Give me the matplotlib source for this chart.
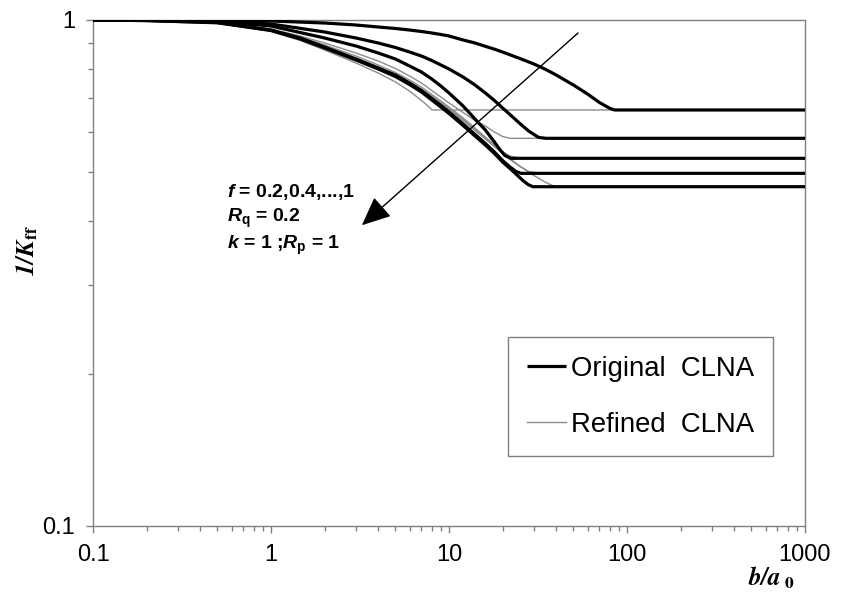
import matplotlib
matplotlib.use("Agg")
import matplotlib.pyplot as plt
from matplotlib.ticker import LogLocator, NullFormatter, FixedLocator, FixedFormatter

plt.rcParams['font.family'] = ['Liberation Sans', 'DejaVu Sans']
plt.rcParams['mathtext.fontset'] = 'custom'
plt.rcParams['mathtext.rm'] = 'Liberation Sans:bold'
plt.rcParams['mathtext.it'] = 'Liberation Sans:italic:bold'
plt.rcParams['mathtext.bf'] = 'Liberation Sans:bold'

# ---------------- data ----------------
# Original CLNA, f = 0.2, 0.4, 0.6, 0.8, 1
orig_02_x = [0.1, 0.2, 0.5, 1, 2, 3, 4, 5, 6, 7, 8, 9, 10, 12, 14, 16, 18, 20, 25, 30, 35, 40, 50, 60, 70, 80, 85, 1000]
orig_02_y = [1.0, 1.0, 0.9986, 0.9955, 0.9864, 0.9775, 0.9687, 0.9621, 0.9555, 0.9490, 0.9426, 0.9362,
             0.9298, 0.9131, 0.9006, 0.8872, 0.8756, 0.8645, 0.8393, 0.8186, 0.7983, 0.7786, 0.7440,
             0.7141, 0.6870, 0.6691, 0.6640, 0.6640]

orig_04_x = [0.1, 0.2, 0.5, 1, 2, 3, 4, 5, 6, 7, 8, 9, 10, 12, 14, 16, 18, 20, 22, 25, 28, 30, 32, 35, 1000]
orig_04_y = [1.0, 0.9986, 0.9955, 0.9820, 0.9469, 0.9214, 0.9006, 0.8824, 0.8645, 0.8489, 0.8317, 0.8149,
             0.8002, 0.7715, 0.7440, 0.7174, 0.6933, 0.6700, 0.6505, 0.6244, 0.6035, 0.5940, 0.5859,
             0.5837, 0.5837]

orig_06_x = [0.1, 0.2, 0.5, 1, 2, 3, 4, 5, 6, 7, 8, 9, 10, 12, 14, 16, 18, 19.4, 20.6, 22.3, 1000]
orig_06_y = [1.0, 0.9982, 0.9932, 0.9731, 0.9214, 0.8885, 0.8606, 0.8374, 0.8112, 0.7893, 0.7645, 0.7406,
             0.7174, 0.6762, 0.6373, 0.6062, 0.5740, 0.5534, 0.5398, 0.5329, 0.5329]

orig_08_x = [0.1, 0.2, 0.5, 1, 1.46, 2, 3, 4, 5, 6, 7, 8, 9, 10, 12, 14, 16, 18, 20, 22, 23.8, 25.4, 1000]
orig_08_y = [1.0, 0.9977, 0.9887, 0.9555, 0.9214, 0.8844, 0.8374, 0.8038, 0.7786, 0.7508, 0.7256, 0.6996,
             0.6777, 0.6579, 0.6230, 0.5940, 0.5701, 0.5484, 0.5276, 0.5123, 0.5019, 0.4977, 0.4977]

orig_10_x = [0.1, 0.2, 0.5, 1, 1.46, 2, 3, 4, 5, 6, 7, 8, 9, 10, 12, 14, 16, 18, 20, 22, 24.1, 26.0, 27.8, 29.6, 1000]
orig_10_y = [1.0, 0.9973, 0.9873, 0.9534, 0.9172, 0.8804, 0.8336, 0.8002, 0.7733, 0.7457, 0.7207, 0.6949,
             0.6731, 0.6535, 0.6188, 0.5899, 0.5662, 0.5447, 0.5240, 0.5088, 0.4940, 0.4818, 0.4730,
             0.4683, 0.4683]

# Refined CLNA, f = 0.2, 0.4, 0.6, 0.8, 1
ref_02_x = [0.1, 0.2, 0.5, 1, 1.46, 2, 3, 4, 5, 6, 7, 7.62, 8.03, 1000]
ref_02_y = [1.0, 0.9968, 0.9864, 0.9490, 0.9109, 0.8724, 0.8222, 0.7857, 0.7542, 0.7239, 0.6933, 0.6762,
            0.6640, 0.6640]

ref_04_x = [0.1, 0.2, 0.5, 1, 1.46, 2, 3, 4, 5, 6, 7, 8, 9, 10, 12, 14, 16, 18, 20, 22, 1000]
ref_04_y = [1.0, 0.9973, 0.9887, 0.9599, 0.9298, 0.9006, 0.8606, 0.8298, 0.8020, 0.7751, 0.7508, 0.7256,
            0.7044, 0.6855, 0.6564, 0.6329, 0.6173, 0.6007, 0.5885, 0.5837, 0.5837]

ref_06_x = [0.1, 0.2, 0.5, 1, 1.46, 2, 3, 4, 5, 6, 7, 8, 9, 10, 12, 14, 16, 18, 20, 22, 25, 1000]
ref_06_y = [1.0, 0.9973, 0.9887, 0.9577, 0.9256, 0.8925, 0.8489, 0.8149, 0.7875, 0.7611, 0.7372, 0.7125,
            0.6917, 0.6731, 0.6402, 0.6117, 0.5872, 0.5662, 0.5497, 0.5385, 0.5329, 0.5329]

ref_08_x = [0.1, 0.2, 0.5, 1, 2, 3, 4, 5, 6, 7, 8, 9, 10, 12, 14, 16, 18, 20, 22, 25, 28, 32, 1000]
ref_08_y = [1.0, 0.9973, 0.9887, 0.9555, 0.8844, 0.8413, 0.8077, 0.7804, 0.7542, 0.7305, 0.7077, 0.6870,
            0.6685, 0.6359, 0.6076, 0.5832, 0.5624, 0.5447, 0.5300, 0.5134, 0.5019, 0.4977, 0.4977]

ref_10_x = [0.1, 0.2, 0.5, 1, 2, 3, 4, 5, 6, 7, 8, 9, 10, 12, 14, 16, 18, 20, 25, 30, 35, 39.5, 1000]
ref_10_y = [1.0, 0.9973, 0.9887, 0.9555, 0.8824, 0.8374, 0.8038, 0.7768, 0.7508, 0.7272, 0.7044, 0.6839,
            0.6655, 0.6329, 0.6048, 0.5819, 0.5624, 0.5460, 0.5146, 0.4928, 0.4774, 0.4683, 0.4683]

x_ticks = [0.1, 1, 10, 100, 1000]
x_ticklabels = ["0.1", "1", "10", "100", "1000"]
y_ticks = [0.1, 1]
y_ticklabels = ["0.1", "1"]

legend_labels = ["Original  CLNA", "Refined  CLNA"]
annot_lines = [r"$f$ = 0.2,0.4,...,1", r"$R_\mathrm{q}$ = 0.2", r"$k$ = 1 ;$R_\mathrm{p}$ = 1"]

# arrow (data coordinates): tail and head
arrow_tail = (53.1, 0.9426)
arrow_head = (3.24, 0.393)

# ---------------- figure ----------------
fig = plt.figure(figsize=(8.41, 5.97), dpi=100)
ax = fig.add_axes([93/841, 1-526/597, 712/841, 506/597])
ax.set_xscale('log')
ax.set_yscale('log')
ax.set_xlim(0.1, 1000)
ax.set_ylim(0.1, 1)

thin_c = '#8c8c8c'
refined = [(ref_02_x, ref_02_y), (ref_04_x, ref_04_y), (ref_06_x, ref_06_y),
           (ref_08_x, ref_08_y), (ref_10_x, ref_10_y)]
original = [(orig_02_x, orig_02_y), (orig_04_x, orig_04_y), (orig_06_x, orig_06_y),
            (orig_08_x, orig_08_y), (orig_10_x, orig_10_y)]

h_ref = None
for xs, ys in refined:
    h_ref, = ax.plot(xs, ys, color=thin_c, lw=1.0, solid_joinstyle='round', zorder=2)
h_orig = None
for xs, ys in original:
    h_orig, = ax.plot(xs, ys, color='black', lw=2.3, solid_joinstyle='round',
                      solid_capstyle='butt', zorder=3)

# spines & ticks
for s in ax.spines.values():
    s.set_color('#808080')
    s.set_linewidth(1.0)
ax.xaxis.set_major_locator(FixedLocator(x_ticks))
ax.xaxis.set_major_formatter(FixedFormatter(x_ticklabels))
ax.yaxis.set_major_locator(FixedLocator(y_ticks))
ax.yaxis.set_major_formatter(FixedFormatter(y_ticklabels))
ax.xaxis.set_minor_locator(LogLocator(base=10, subs=range(2, 10)))
ax.yaxis.set_minor_locator(LogLocator(base=10, subs=range(2, 10)))
ax.xaxis.set_minor_formatter(NullFormatter())
ax.yaxis.set_minor_formatter(NullFormatter())
ax.tick_params(which='major', direction='out', length=5, width=1.0, color='#808080',
               labelsize=17, pad=8)
ax.tick_params(which='minor', direction='out', length=3.5, width=1.0, color='#808080')

# arrow
ax.annotate('', xy=arrow_head, xytext=arrow_tail,
            arrowprops=dict(arrowstyle='-|>,head_length=0.9,head_width=0.4',
                            mutation_scale=20, lw=1.0, color='black',
                            shrinkA=0, shrinkB=0), zorder=4)

# annotation text
for j, line in enumerate(annot_lines):
    ax.text((227-93)/712, (526-[192, 218, 245][j])/506, line, transform=ax.transAxes,
            fontsize=14, fontweight='bold', ha='left', va='center')

# legend
leg = ax.legend([h_orig, h_ref], legend_labels, loc='upper right',
                bbox_to_anchor=(0.955, 0.373), borderaxespad=0, fontsize=19.8,
                frameon=True, fancybox=False, edgecolor='#808080', framealpha=1,
                handlelength=1.4, handletextpad=0.2, labelspacing=1.08,
                borderpad=0.68)
leg.get_frame().set_linewidth(1.0)

# axis labels (Times-like bold italic)
fig.text(27/841, 1-250/597, r'$\mathbfit{1/K}_{\mathbf{ff}}$', rotation=90,
         fontsize=18, ha='center', va='center', math_fontfamily='stix')
fig.text(772/841, 1-578/597, r'$\mathbfit{b/a}_{\ \mathbf{0}}$',
         fontsize=18, ha='center', va='center', math_fontfamily='stix')

fig.savefig('out.png', dpi=100)
